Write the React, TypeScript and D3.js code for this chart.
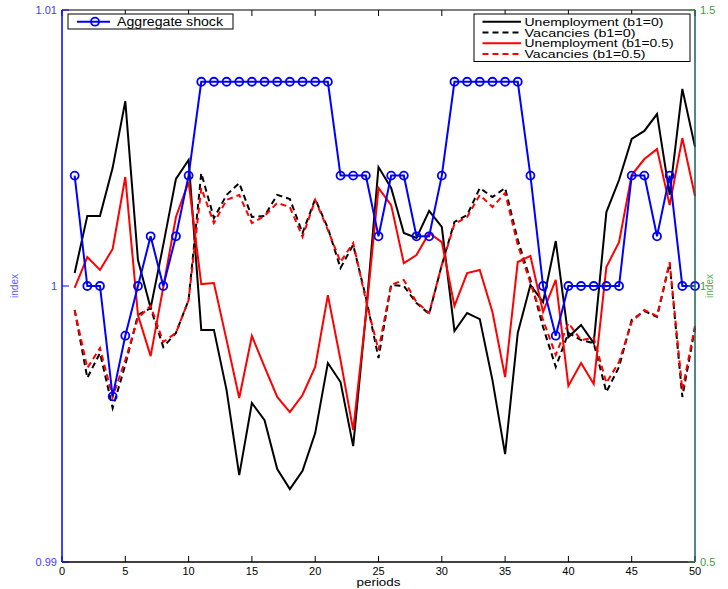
import React from "react";
import * as d3 from "d3";

// periods 1..50
const periods = d3.range(1, 51);

// aggregate shock (right axis, 0.5 - 1.5)
const shock = [
  1.2, 1, 1, 0.8, 0.91, 1, 1.09, 1, 1.09, 1.2,
  1.37, 1.37, 1.37, 1.37, 1.37, 1.37, 1.37, 1.37, 1.37, 1.37, 1.37,
  1.2, 1.2, 1.2, 1.09, 1.2, 1.2, 1.09, 1.09, 1.2,
  1.37, 1.37, 1.37, 1.37, 1.37, 1.37,
  1.2, 1, 0.91, 1, 1, 1, 1, 1, 1.2, 1.2, 1.09, 1.2, 1, 1,
];

// left axis, 0.99 - 1.01
const unempB0 = [
  1.00047, 1.00254, 1.00254, 1.00428, 1.0067, 1.00094, 0.9992, 1.00149, 1.00388, 1.00457,
  0.99841, 0.99841, 0.99623, 0.99315, 0.99576, 0.99514, 0.99337, 0.99264, 0.9933, 0.99467,
  0.99721, 0.99652, 0.9942, 0.99895, 1.00431, 1.00355, 1.00192, 1.00174, 1.00272, 1.00214,
  0.99837, 0.99902, 0.9988, 0.99659, 0.99391, 0.9983, 1.00004, 0.99942, 1.00163, 0.99815,
  0.99859, 0.99793, 1.00268, 1.00384, 1.00533, 1.00562, 1.00623, 1.0033, 1.00714, 1.00504,
];
const vacB0 = [
  0.99913, 0.99667, 0.99757, 0.99558, 0.99714, 0.99895, 0.9992, 0.99779, 0.9983, 0.99949,
  1.00409, 1.00246, 1.0033, 1.00373, 1.0025, 1.00254, 1.0033, 1.00315, 1.00192, 1.00315,
  1.0021, 1.00065, 1.00149, 0.9996, 0.99739, 1.00004, 1.0, 0.99938, 0.99899, 1.00076,
  1.00232, 1.00257, 1.00355, 1.00322, 1.00355, 1.00167, 1.00022, 0.99851, 0.99707, 0.9983,
  0.99804, 0.99793, 0.99616, 0.99707, 0.99877, 0.99909, 0.99888, 1.00083, 0.99598, 0.99848,
];
const unempB05 = [
  0.99993, 1.00105, 1.00058, 1.00134, 1.00395, 0.99895, 0.99746, 0.99996, 1.0025, 1.00377,
  1.00007, 1.00011, 0.99804, 0.99594, 0.99819, 0.99707, 0.99598, 0.99543, 0.99605, 0.99707,
  0.99967, 0.99732, 0.99478, 0.99891, 1.00355, 1.00293, 1.00083, 1.00112, 1.00192, 1.00159,
  0.99928, 1.00047, 1.00058, 0.99906, 0.9967, 1.00087, 1.00109, 0.99906, 1.00022, 0.99638,
  0.99721, 0.99645, 1.00069, 1.00159, 1.00402, 1.0046, 1.00496, 1.00293, 1.00536, 1.00326,
];
const vacB05 = [
  0.99913, 0.99703, 0.99775, 0.99598, 0.99732, 0.99884, 0.99928, 0.99797, 0.9983, 0.99949,
  1.00355, 1.00228, 1.00312, 1.0033, 1.00228, 1.00254, 1.00301, 1.00286, 1.00178, 1.00312,
  1.00203, 1.00087, 1.00156, 0.99949, 0.99768, 1.00004, 1.00022, 0.99942, 0.99902, 1.00076,
  1.00225, 1.0025, 1.0033, 1.00286, 1.00337, 1.00149, 1.00011, 0.99877, 0.9975, 0.99866,
  0.99804, 0.99812, 0.99649, 0.99725, 0.9987, 0.99913, 0.99891, 1.00087, 0.99623, 0.99855,
];

const xTicks = d3.range(0, 51, 5);
const leftTicks = [0.99, 1, 1.01];
const leftTickLabels = ["0.99", "1", "1.01"];
const rightTicks = [0.5, 1, 1.5];
const rightTickLabels = ["0.5", "1", "1.5"];

const series = [
  { name: "Unemployment (b1=0)", values: unempB0, color: "#000000", dash: "", textW: 139 },
  { name: "Vacancies (b1=0)", values: vacB0, color: "#000000", dash: "6,4", textW: 111 },
  { name: "Unemployment (b1=0.5)", values: unempB05, color: "#ff0000", dash: "", textW: 149 },
  { name: "Vacancies (b1=0.5)", values: vacB05, color: "#ff0000", dash: "6,4", textW: 121 },
];

const W = 728;
const H = 589;
const left = 62;
const right = 695;
const top = 10;
const bottom = 562;
const font = "Liberation Sans, Arial, sans-serif";

export default function App() {
  const x = d3.scaleLinear().domain([0, 50]).range([left, right]);
  const yL = d3.scaleLinear().domain([0.99, 1.01]).range([bottom, top]);
  const yR = d3.scaleLinear().domain([0.5, 1.5]).range([bottom, top]);

  const lineL = d3
    .line<number>()
    .x((d, i) => x(periods[i]))
    .y((d) => yL(d));
  const lineR = d3
    .line<number>()
    .x((d, i) => x(periods[i]))
    .y((d) => yR(d));

  return (
    <svg
      width={W}
      height={H}
      style={{ position: "absolute", left: 0, top: 0, background: "#fff" }}
      fontFamily={font}
    >
      <rect x={0} y={0} width={W} height={H} fill="#fff" />

      {/* data lines */}
      {series.map((s) => (
        <path
          key={s.name}
          d={lineL(s.values) || ""}
          fill="none"
          stroke={s.color}
          strokeWidth={2}
          strokeDasharray={s.dash || undefined}
        />
      ))}
      <path d={lineR(shock) || ""} fill="none" stroke="#0000ff" strokeWidth={2} />
      {shock.map((v, i) => (
        <circle key={i} cx={x(periods[i])} cy={yR(v)} r={4} fill="none" stroke="#0000ff" strokeWidth={1.8} />
      ))}

      {/* frame: top and bottom */}
      <line x1={left} x2={right} y1={top} y2={top} stroke="#000" strokeWidth={1.2} />
      <line x1={left} x2={right} y1={bottom} y2={bottom} stroke="#000" strokeWidth={1.5} />
      {xTicks.map((t) => (
        <g key={t}>
          <line x1={x(t)} x2={x(t)} y1={bottom} y2={bottom - 6} stroke="#000" />
          <line x1={x(t)} x2={x(t)} y1={top} y2={top + 6} stroke="#000" />
          <text x={x(t)} y={bottom + 13} fontSize={11} textAnchor="middle" fill="#000">
            {t}
          </text>
        </g>
      ))}
      <text
        x={(left + right) / 2}
        y={bottom + 24}
        fontSize={10.5}
        textAnchor="middle"
        fill="#000"
        textLength={44}
        lengthAdjust="spacingAndGlyphs"
      >
        periods
      </text>

      {/* left axis */}
      <line x1={left} x2={left} y1={top} y2={bottom} stroke="#0000ff" strokeWidth={1.5} />
      {leftTicks.map((t, i) => (
        <g key={t}>
          <line x1={left} x2={left + 7} y1={yL(t)} y2={yL(t)} stroke="#0000ff" />
          <text x={left - 5} y={yL(t) + 4} fontSize={11} textAnchor="end" fill="#3d3dff">
            {leftTickLabels[i]}
          </text>
        </g>
      ))}
      <text
        transform={`translate(18,${yL(1)}) rotate(-90)`}
        fontSize={10}
        textAnchor="middle"
        fill="#5a5aff"
      >
        index
      </text>

      {/* right axis */}
      <line x1={right} x2={right} y1={top} y2={bottom} stroke="#1a5e5e" strokeWidth={1.5} />
      {rightTicks.map((t, i) => (
        <g key={t}>
          <line x1={right} x2={right - 7} y1={yR(t)} y2={yR(t)} stroke="#3c9c3c" />
          <text x={right + 5} y={yR(t) + 4} fontSize={11} textAnchor="start" fill="#3c9c3c">
            {rightTickLabels[i]}
          </text>
        </g>
      ))}
      <text
        transform={`translate(713,${yR(1)}) rotate(-90)`}
        fontSize={10}
        textAnchor="middle"
        fill="#5aaa5a"
      >
        index
      </text>

      {/* legend for the shock */}
      <g transform="translate(68,14)">
        <rect x={0} y={0} width={165} height={15} fill="#fff" stroke="#000" strokeWidth={1} />
        <line x1={9} x2={42} y1={7.7} y2={7.7} stroke="#0000ff" strokeWidth={2} />
        <circle cx={27} cy={7.7} r={4} fill="none" stroke="#0000ff" strokeWidth={1.8} />
        <text x={49} y={12} fontSize={12} fill="#000" textLength={106} lengthAdjust="spacingAndGlyphs">
          Aggregate shock
        </text>
      </g>

      {/* legend for the series */}
      <g transform="translate(474,14)">
        <rect x={0} y={0} width={216} height={47.5} fill="#fff" stroke="#000" strokeWidth={1} />
        {series.map((s, i) => (
          <g key={s.name} transform={`translate(0,${7.7 + i * 10.8})`}>
            <line x1={8.5} x2={47} y1={0} y2={0} stroke={s.color} strokeWidth={2} strokeDasharray={s.dash || undefined} />
            <text x={50.5} y={4} fontSize={11} fill="#000" textLength={s.textW} lengthAdjust="spacingAndGlyphs">
              {s.name}
            </text>
          </g>
        ))}
      </g>
    </svg>
  );
}
